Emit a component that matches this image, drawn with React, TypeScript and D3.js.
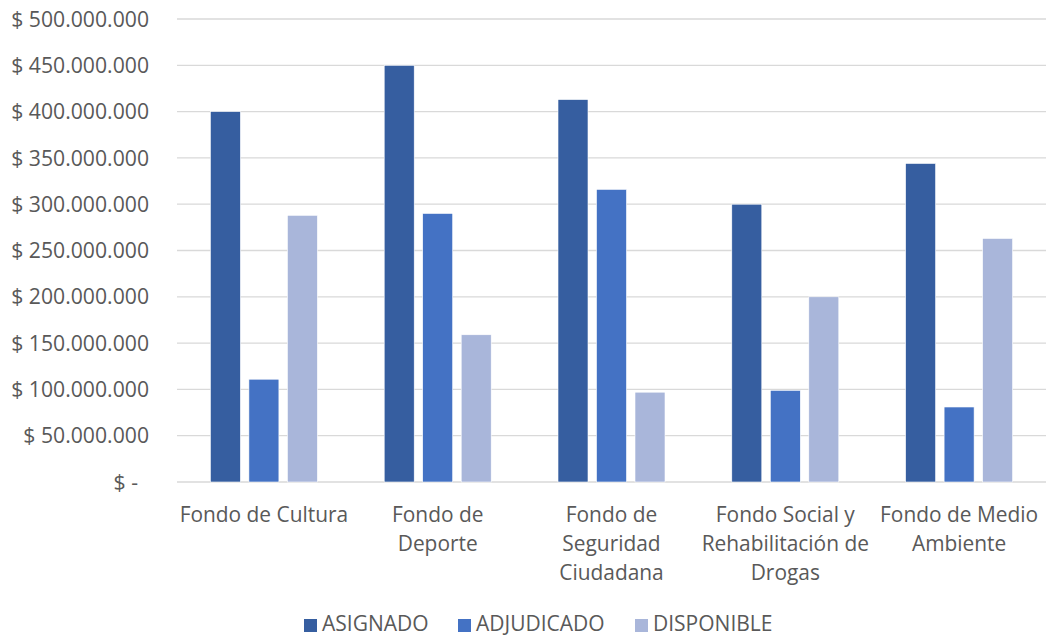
import React from "react";
import * as d3 from "d3";

const categories: string[][] = [
  ["Fondo de Cultura"],
  ["Fondo de", "Deporte"],
  ["Fondo de", "Seguridad", "Ciudadana"],
  ["Fondo Social y", "Rehabilitación de", "Drogas"],
  ["Fondo de Medio", "Ambiente"],
];
const seriesNames = ["ASIGNADO", "ADJUDICADO", "DISPONIBLE"];
const asignado = [400000000, 450000000, 413000000, 300000000, 344000000];
const adjudicado = [111000000, 290000000, 316000000, 99000000, 81000000];
const disponible = [288000000, 159000000, 97000000, 200000000, 263000000];
const yTicks = [0, 50000000, 100000000, 150000000, 200000000, 250000000, 300000000, 350000000, 400000000, 450000000, 500000000];
const colors = ["#365EA0", "#4472C4", "#A9B6DA"];

const W = 1046;
const H = 637;
const FONT = "'Open Sans', sans-serif";

function fmt(v: number): string {
  if (v === 0) return "$ -";
  return "$ " + d3.format(",")(v).replace(/,/g, ".");
}

export default function App() {
  const left = 177;
  const right = 1046;
  const top = 19;
  const bottom = 482;
  const series = [asignado, adjudicado, disponible];
  const x = d3.scaleBand<number>().domain(d3.range(categories.length)).range([left, right]).paddingInner(0).paddingOuter(0);
  const y = d3.scaleLinear().domain([0, 500000000]).range([bottom, top]);
  const barW = 30;
  const step = 38.5;
  return (
    <svg width={W} height={H} style={{ position: "absolute", left: 0, top: 0, background: "#fff" }} fontFamily={FONT}>
      {yTicks.map((t) => (
        <g key={t}>
          <line x1={left} x2={right} y1={y(t)} y2={y(t)} stroke="#D9D9D9" strokeWidth={1.3} />
          <text x={t === 0 ? 138 : 149} y={y(t)} dy="0.36em" textAnchor="end" fontSize={21.2} fill="#595959">
            {fmt(t)}
          </text>
        </g>
      ))}
      {categories.map((c, i) => {
        const cx = (x(i) as number) + x.bandwidth() / 2;
        return (
          <g key={i}>
            {series.map((s, j) => {
              const bx = cx + (j - 1) * step - barW / 2;
              return (
                <rect key={j} x={bx} y={y(s[i])} width={barW} height={y(0) - y(s[i])} fill={colors[j]} stroke="#fff" strokeWidth={0.6} />
              );
            })}
            {c.map((line, k) => (
              <text key={k} x={cx} y={522 + k * 29} textAnchor="middle" fontSize={20.9} fill="#595959">
                {line}
              </text>
            ))}
          </g>
        );
      })}
      {seriesNames.map((n, j) => {
        const lx = [304, 458, 635][j];
        return (
          <g key={n}>
            <rect x={lx} y={619} width={13} height={13} fill={colors[j]} />
            <text x={lx + 18} y={631} fontSize={21} fill="#595959">
              {n}
            </text>
          </g>
        );
      })}
    </svg>
  );
}
